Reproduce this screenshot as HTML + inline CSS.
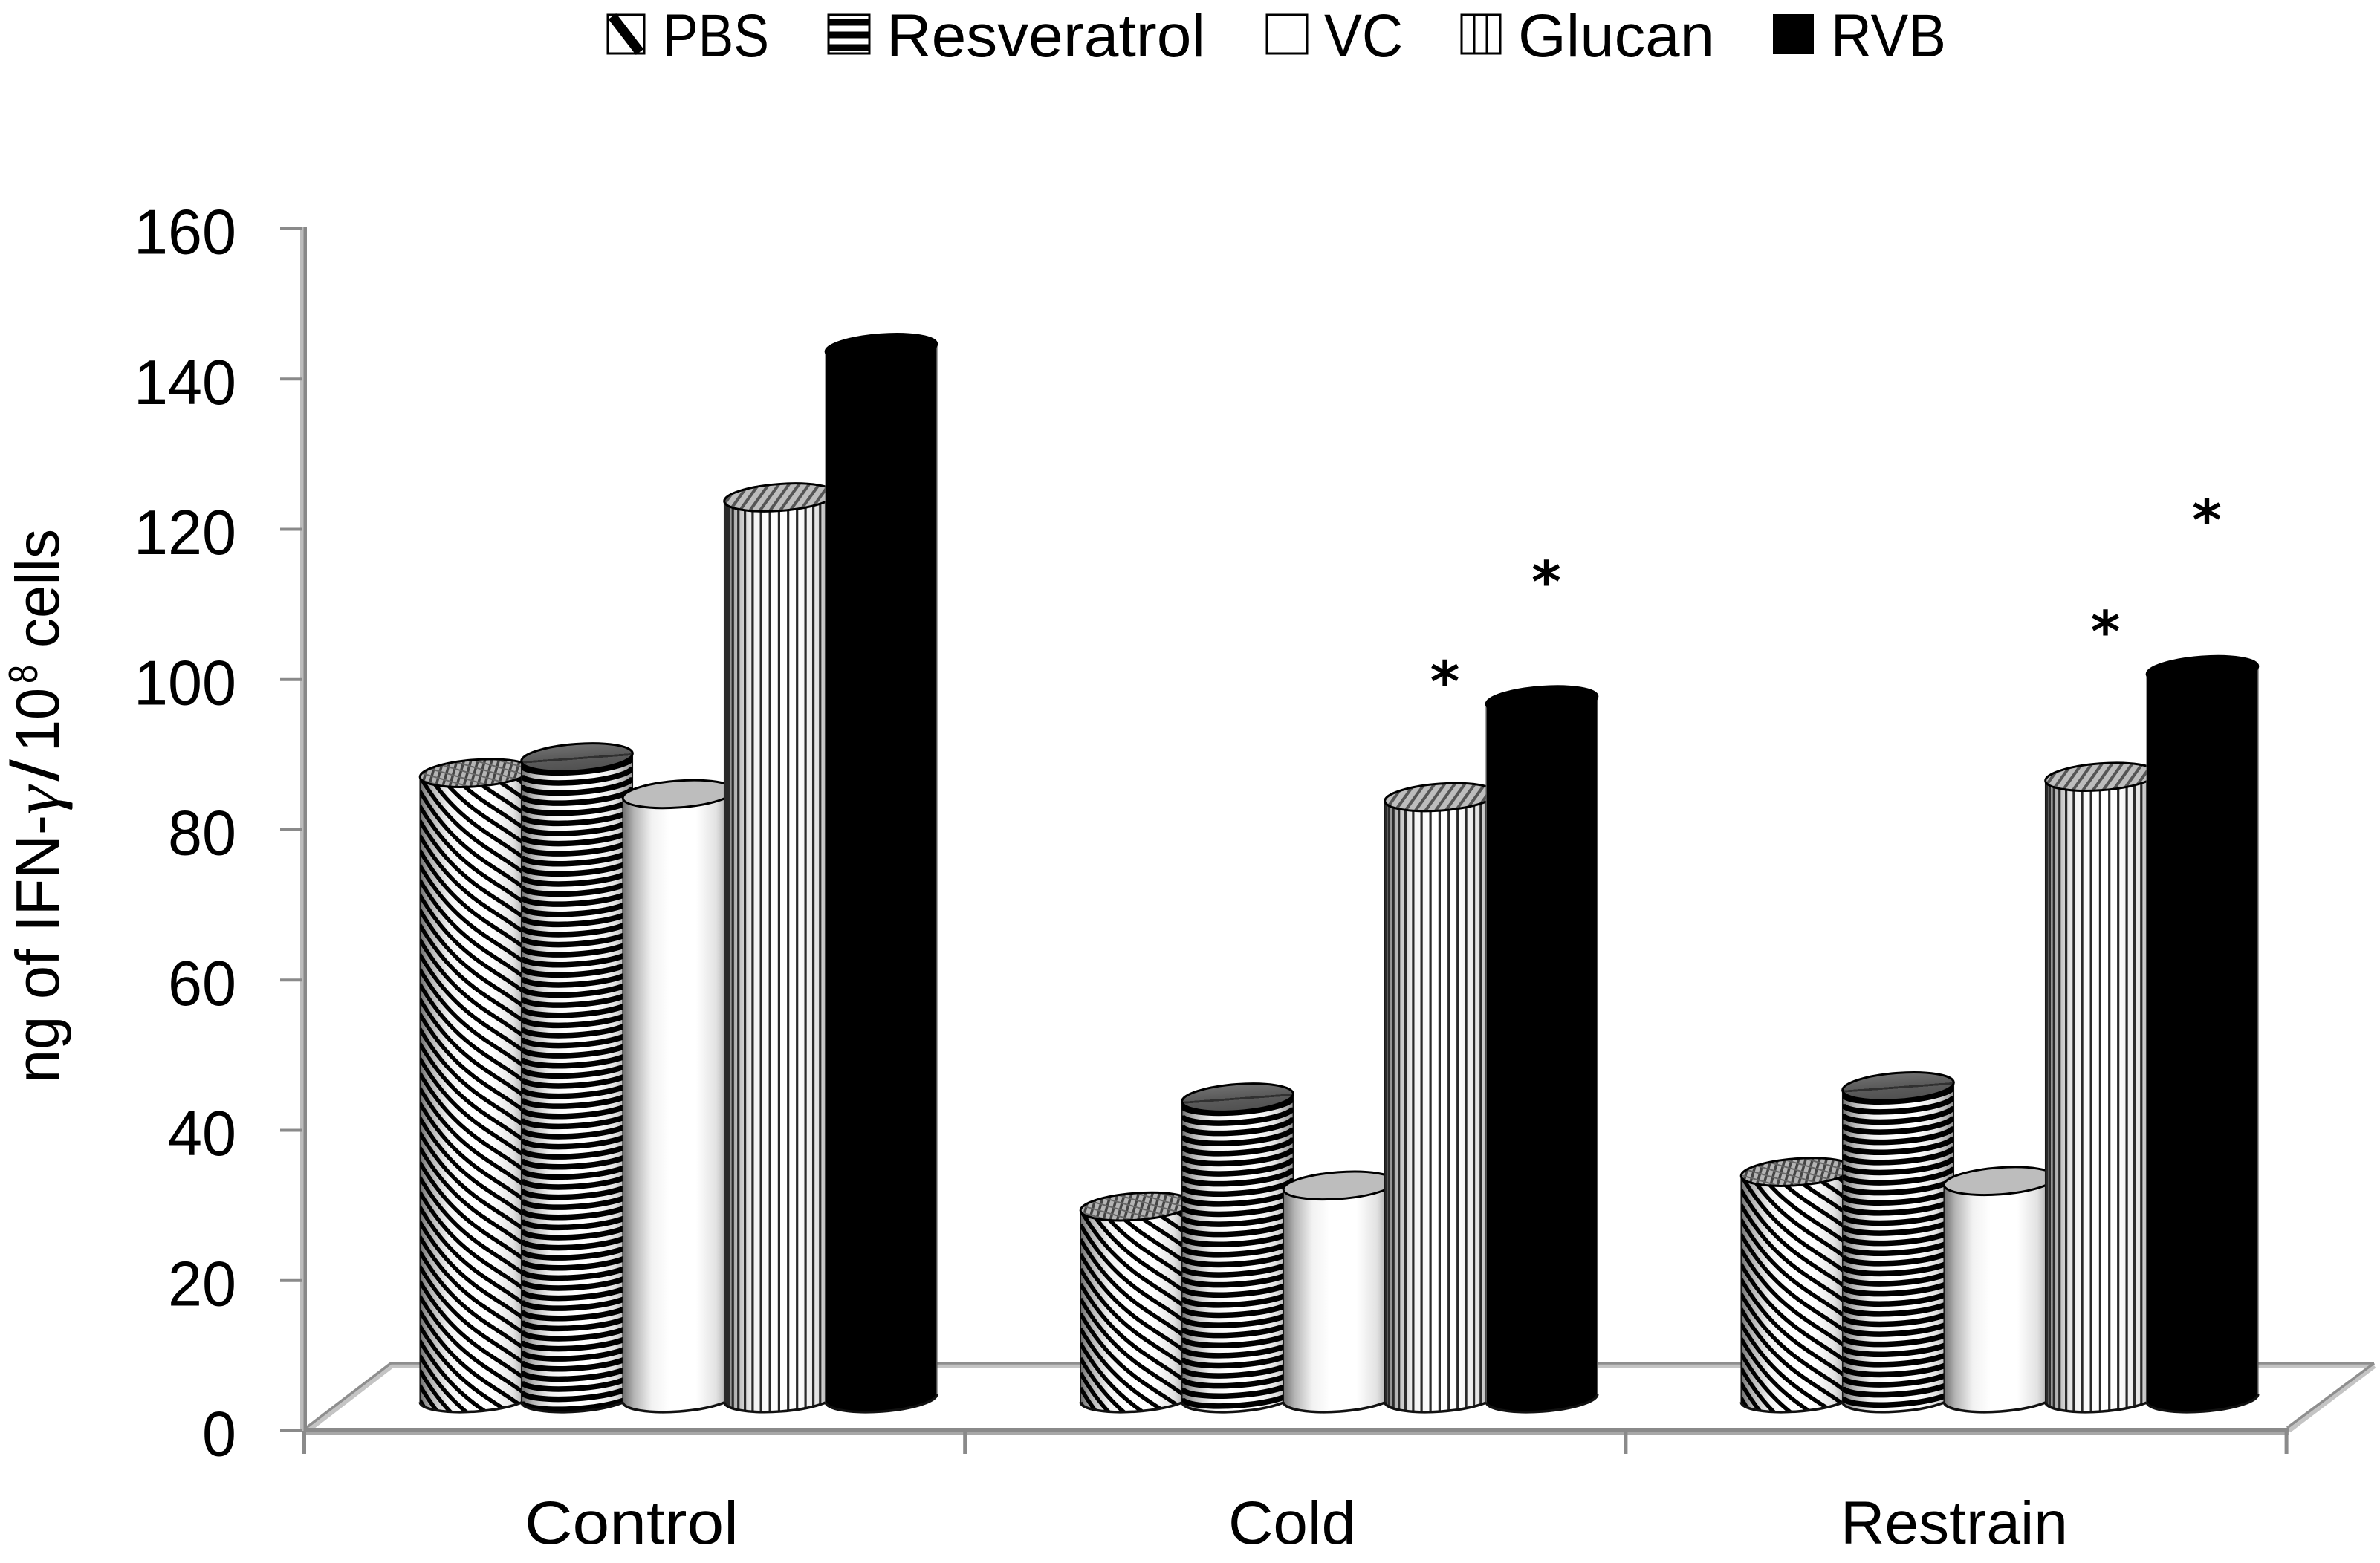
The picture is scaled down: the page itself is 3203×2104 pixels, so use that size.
<!DOCTYPE html>
<html lang="en">
<head>
<meta charset="utf-8">
<title>IFN-γ production chart</title>
<style>
html,body{margin:0;padding:0;background:#fff;}
svg{display:block;}
text{font-family:"Liberation Sans",sans-serif;fill:#000;}
</style>
</head>
<body>
<svg id="chart" xmlns="http://www.w3.org/2000/svg" width="3203" height="2104" viewBox="0 0 3203 2104">
<defs>
<linearGradient id="shade" x1="0" x2="1" y1="0" y2="0">
<stop offset="0" stop-color="#6e6e6e"/><stop offset=".1" stop-color="#b4b4b4"/><stop offset=".26" stop-color="#f2f2f2"/><stop offset=".42" stop-color="#fff"/><stop offset=".66" stop-color="#fff"/><stop offset=".84" stop-color="#e2e2e2"/><stop offset="1" stop-color="#8c8c8c"/>
</linearGradient>
<linearGradient id="resvTop" x1="0" x2="0" y1="0" y2="1">
<stop offset="0" stop-color="#707070"/><stop offset=".5" stop-color="#5a5a5a"/><stop offset=".5" stop-color="#303030"/><stop offset=".58" stop-color="#303030"/><stop offset=".58" stop-color="#5a5a5a"/><stop offset="1" stop-color="#505050"/>
</linearGradient>
<pattern id="hatchGlucan" width="11" height="11" patternUnits="userSpaceOnUse" patternTransform="rotate(40)">
<rect width="11" height="11" fill="#bdbdbd"/><rect width="4" height="11" fill="#555"/>
</pattern>
<pattern id="hatchPbs" width="9" height="9" patternUnits="userSpaceOnUse" patternTransform="rotate(20)">
<rect width="9" height="9" fill="#b4b4b4"/><rect width="3.5" height="9" fill="#444"/><rect width="9" height="2" y="4" fill="#666"/>
</pattern>
</defs>

<g>
<g>
<rect x="818" y="20" width="49" height="52" fill="#fff" stroke="#000" stroke-width="3"/>
<path d="M824 22 L861 70" stroke="#000" stroke-width="13" fill="none"/>
<text x="892" y="76" font-size="82" textLength="143" lengthAdjust="spacingAndGlyphs">PBS</text>
</g>
<g>
<rect x="1115" y="20" width="55" height="52" fill="#fff" stroke="#000" stroke-width="3"/>
<path d="M1115 30 H1170 M1115 47 H1170 M1115 64 H1170" stroke="#000" stroke-width="9" fill="none"/>
<text x="1193" y="76" font-size="82" textLength="429" lengthAdjust="spacingAndGlyphs">Resveratrol</text>
</g>
<g>
<rect x="1705" y="20" width="54" height="52" fill="#fff" stroke="#000" stroke-width="3"/>
<text x="1782" y="76" font-size="82" textLength="106" lengthAdjust="spacingAndGlyphs">VC</text>
</g>
<g>
<rect x="1967" y="20" width="52" height="52" fill="#fff" stroke="#000" stroke-width="3"/>
<path d="M1984 20 V72 M2001 20 V72" stroke="#000" stroke-width="3" fill="none"/>
<text x="2043" y="76" font-size="82" textLength="264" lengthAdjust="spacingAndGlyphs">Glucan</text>
</g>
<g>
<rect x="2386" y="19" width="55" height="54" fill="#000"/>
<text x="2464" y="76" font-size="82" textLength="155" lengthAdjust="spacingAndGlyphs">RVB</text>
</g>
</g>

<g transform="translate(79,1458) rotate(-90)">
<text x="0" y="0" font-size="83" textLength="361" lengthAdjust="spacingAndGlyphs">ng of IFN-</text>
<text x="362" y="0" font-size="88" font-style="italic" textLength="38" lengthAdjust="spacingAndGlyphs" style="font-family:'Liberation Serif',serif">γ</text>
<text x="406" y="0" font-size="92" textLength="30" lengthAdjust="spacingAndGlyphs">/</text>
<text x="446" y="0" font-size="83" textLength="86" lengthAdjust="spacingAndGlyphs">10</text>
<text x="538" y="-29" font-size="55" textLength="25" lengthAdjust="spacingAndGlyphs">8</text>
<text x="586" y="0" font-size="83" textLength="160" lengthAdjust="spacingAndGlyphs">cells</text>
</g>

<g id="axes"></g>
<g id="bars"></g>
<g id="stars"></g>
</svg>

<script>
// Chart data
const categories = ["Control", "Cold", "Restrain"];
const seriesNames = ["PBS", "Resveratrol", "VC", "Glucan", "RVB"];
const pbsValues = [83.2, 25.5, 30.1];
const resveratrolValues = [85.3, 40.0, 41.5];
const vcValues = [80.4, 28.3, 28.9];
const glucanValues = [119.9, 80.0, 82.7];
const rvbValues = [139.8, 92.9, 96.9];
const yTickLabels = [0, 20, 40, 60, 80, 100, 120, 140, 160];
const markerCategories = ["Cold", "Cold", "Restrain", "Restrain"];
const markerSeries = ["Glucan", "RVB", "Glucan", "RVB"];
const markerValues = [96.6, 109.9, 103.3, 118.1];

const NS = "http://www.w3.org/2000/svg";
const allValues = [pbsValues, resveratrolValues, vcValues, glucanValues, rvbValues];

function make(parent, tag, attrs) {
  const el = document.createElementNS(NS, tag);
  for (const k in attrs) el.setAttribute(k, attrs[k]);
  parent.appendChild(el);
  return el;
}

// Axis functions
const PX_PER_UNIT = 10.1125;
function axisY(v) { return 1926 - v * PX_PER_UNIT; }
function barY(v) { return 1882 - v * PX_PER_UNIT; }
const RX = 75, RY = 18, TILT = -4.2;
function barCenterX(c, s) { return 565 + c * 889 + s * 136.5 + RX; }
function catTickX(c) { return 409.5 + c * 889.2; }

const axes = document.getElementById("axes");
const barsLayer = document.getElementById("bars");
const starsLayer = document.getElementById("stars");

// Floor
const floorLight = make(axes, "path", {d: "M414 1925 L527 1838 H3195 M3080 1925 L3195 1838", fill: "none", stroke: "#c4c4c4", "stroke-width": 8});


const floorDark = make(axes, "path", {d: "M412 1922 L526 1835 H3195 M3078 1922 L3195 1835", fill: "none", stroke: "#8e8e8e", "stroke-width": 3.5});



// Y axis
const yAxisA = make(axes, "rect", {x: 404, y: axisY(160) - 2, width: 5, height: axisY(0) - axisY(160) + 4, fill: "#bcbcbc"});


const yAxisB = make(axes, "rect", {x: 408.5, y: axisY(160) - 2, width: 4.5, height: axisY(0) - axisY(160) + 4, fill: "#888"});



yTickLabels.forEach(function (t) {
  const y = axisY(t);
  const mark = make(axes, "rect", {x: 377, y: y - 2, width: 30, height: 4, fill: "#8a8a8a"});
  
  
  const s = String(t);
  const label = make(axes, "text", {x: 318, y: y + 33.5, "font-size": 85, "text-anchor": "end", textLength: s.length * 46, lengthAdjust: "spacingAndGlyphs"});
  label.textContent = s;
  
  
});

// X axis
const xAxisA = make(axes, "rect", {x: 409, y: 1922, width: 2672, height: 6, fill: "#8a8a8a"});


const xAxisB = make(axes, "rect", {x: 409, y: 1928, width: 2672, height: 4, fill: "#a8a8a8"});


for (let i = 0; i <= categories.length; i++) {
  const tick = make(axes, "rect", {x: catTickX(i) - 2.5, y: 1926, width: 5, height: 31, fill: "#8a8a8a"});
  
  
}
const catLabelLength = [288, 172, 306];
const catLabelStart = [706, 1653, 2477];
categories.forEach(function (name, i) {
  const label = make(axes, "text", {x: catLabelStart[i], y: 2078, "font-size": 82, textLength: catLabelLength[i], lengthAdjust: "spacingAndGlyphs"});
  label.textContent = name;
  
  
});

// Stripe generators (texture only; anchored to each cylinder's geometry)
function diagonalStripes(cx, top, bottom) {
  let d = "";
  for (let y0 = top - 130; y0 < bottom + 120; y0 += 20) {
    let sub = "";
    for (let dx = -RX; dx <= RX; dx += 6) {
      const y = y0 + 0.75 * dx - 0.003 * dx * dx + 0.00003 * dx * dx * dx;
      sub += (sub ? "L" : "M") + (cx + dx).toFixed(1) + " " + y.toFixed(1);
    }
    d += sub;
  }
  return d;
}
function horizontalStripes(cx, top, bottom) {
  const t = TILT * Math.PI / 180;
  const ax = RX * Math.cos(t), ay = RX * Math.sin(t);
  let d = "";
  for (let y = top + 5; y < bottom + 20; y += 13.6) {
    d += "M" + (cx - ax).toFixed(1) + " " + (y - ay).toFixed(1) +
      "A" + RX + " 15 " + TILT + " 0 0 " + (cx + ax).toFixed(1) + " " + (y + ay).toFixed(1);
  }
  return d;
}
function verticalStripes(cx, top, bottom) {
  let d = "";
  for (let th = -1.5; th <= 1.5; th += 0.165) {
    const x = cx + RX * Math.sin(th);
    d += "M" + x.toFixed(1) + " " + (top - 30) + "V" + (bottom + 30);
  }
  return d;
}

const stripeStyle = {
  PBS: {fn: diagonalStripes, width: 5.5, color: "#000", top: "url(#hatchPbs)"},
  Resveratrol: {fn: horizontalStripes, width: 7.5, color: "#000", top: "url(#resvTop)"},
  VC: {fn: null, top: "#bdbdbd"},
  Glucan: {fn: verticalStripes, width: 3.2, color: "#2a2a2a", top: "url(#hatchGlucan)"},
  RVB: {fn: null, top: "#000"}
};

// Draw cylinders from data
categories.forEach(function (cat, c) {
  seriesNames.forEach(function (name, s) {
    const v = allValues[s][c];
    const cx = barCenterX(c, s);
    const top = barY(v);
    const base = barY(0);
    const t = TILT * Math.PI / 180;
    const ax = RX * Math.cos(t), ay = RX * Math.sin(t);
    const arc = "A" + RX + " " + RY + " " + TILT + " 0 1 ";
    const sidePath = "M" + (cx - ax) + " " + (top - ay) + arc + (cx + ax) + " " + (top + ay) +
      "L" + (cx + ax) + " " + (base + ay) + arc + (cx - ax) + " " + (base - ay) + "Z";
    const style = stripeStyle[name];
    const slug = name.toLowerCase() + "-" + cat.toLowerCase();

    const g = make(barsLayer, "g", {});
    
    

    const clipId = "clip-" + slug;
    const clip = make(g, "clipPath", {id: clipId});
    make(clip, "path", {d: sidePath});

    const isBlack = name === "RVB";
    const side = make(g, "path", {d: sidePath, fill: isBlack ? "#000" : "url(#shade)", stroke: isBlack ? "#555" : "#111", "stroke-width": 1.5});
    
    

    if (style.fn) {
      const stripes = make(g, "path", {d: style.fn(cx, top, base), fill: "none", stroke: style.color, "stroke-width": style.width, "clip-path": "url(#" + clipId + ")"});
      
      
    }

    const bottomEdge = make(g, "path", {d: "M" + (cx + ax) + " " + (base + ay) + arc + (cx - ax) + " " + (base - ay), fill: "none", stroke: "#111", "stroke-width": 3.5});
    
    

    const cap = make(g, "ellipse", {cx: cx, cy: top, rx: RX, ry: RY, fill: style.top, stroke: "#000", "stroke-width": 3, transform: "rotate(" + TILT + " " + cx + " " + top + ")"});
    
    
  });
});

// Significance markers
markerValues.forEach(function (v, i) {
  const c = categories.indexOf(markerCategories[i]);
  const s = seriesNames.indexOf(markerSeries[i]);
  const star = make(starsLayer, "text", {x: barCenterX(c, s) + 6, y: barY(v) + 39, "font-size": 76, "font-weight": "bold", "text-anchor": "middle", style: "font-family:'DejaVu Sans',sans-serif"});
  star.textContent = "*";
  
  
});
</script>
</body>
</html>
